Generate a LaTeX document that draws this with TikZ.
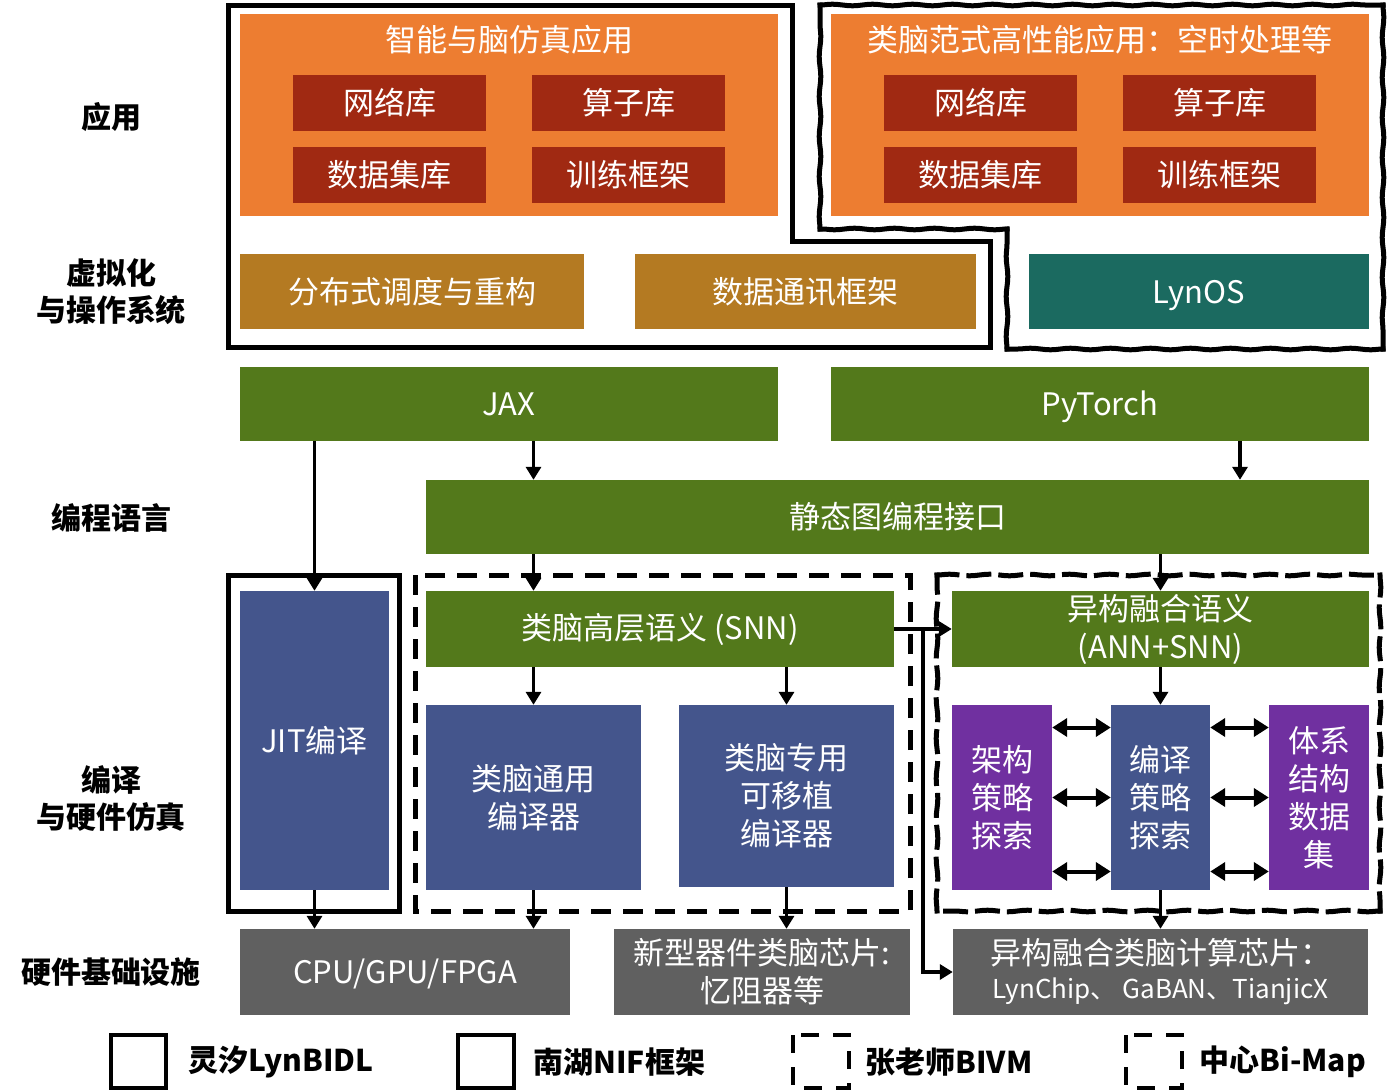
\documentclass[tikz,border=0pt]{standalone}
\usepackage{fontspec}
\setmainfont{Noto Sans CJK SC}
\usetikzlibrary{arrows.meta,calc,decorations.pathmorphing}
\definecolor{apporange}{RGB}{237,125,49}
\definecolor{libred}{RGB}{160,41,18}
\definecolor{schedgold}{RGB}{180,122,34}
\definecolor{osteal}{RGB}{27,106,96}
\definecolor{langgreen}{RGB}{83,121,27}
\definecolor{compblue}{RGB}{68,85,140}
\definecolor{explpurple}{RGB}{112,48,160}
\definecolor{hwgray}{RGB}{96,96,96}
\newcommand{\boxfont}{\fontsize{31}{38}\selectfont}
\newcommand{\smallboxfont}{\fontsize{26}{36}\selectfont}
\newcommand{\layerfont}{\fontsize{30}{37}\selectfont\bfseries}
\tikzset{
    % Coloured block style
    block/.style={
        rectangle, inner sep=0pt, text=white,
        font=\boxfont, align=center
    },
    latin/.style={text height=27pt, text depth=4pt},
    appbox/.style={block, fill=apporange},
    libbox/.style={block, fill=libred, minimum width=193, minimum height=56},
    schedbox/.style={block, fill=schedgold, minimum height=75},
    osbox/.style={block, fill=osteal, minimum height=75},
    langbox/.style={block, fill=langgreen},
    compbox/.style={block, fill=compblue},
    explbox/.style={block, fill=explpurple},
    hwbox/.style={block, fill=hwgray, minimum height=86},
    % Layer label style
    layerlabel/.style={font=\layerfont, align=center},
    % Legend style
    legendtext/.style={font=\layerfont, anchor=west},
    % Frame styles
    frame/.style={line width=5pt},
    dashframe/.style={frame, dash pattern=on 20pt off 12pt},
    wavy/.style={decorate, line cap=rect,
        decoration={snake, segment length=40pt, amplitude=0.8pt}},
    % Arrows
    arr/.style={line width=3.5pt, -{Triangle[width=15pt,length=13pt]}},
    dblarr/.style={line width=4pt, {Triangle[width=18pt,length=15pt]}-{Triangle[width=18pt,length=15pt]}}
}
\begin{document}
\begin{tikzpicture}[x=1pt,y=-1pt]
\useasboundingbox (0,0) rectangle (1393,1090);

% Layer labels
\node[layerlabel] (lapp) at (111,117) {应用};
\node[layerlabel] (los) at (111,292) {虚拟化\\与操作系统};
\node[layerlabel] (llang) at (111,518) {编程语言};
\node[layerlabel] (lcomp) at (111,798) {编译\\与硬件仿真};
\node[layerlabel] (lhw) at (111,972) {硬件基础设施};

% Application layer
\node[appbox, minimum width=538, minimum height=202] (app1) at (509,115) {};
\node[block] (app1title) at (509,40) {智能与脑仿真应用};
\node[libbox] (net1) at (389.5,103) {网络库};
\node[libbox] (op1) at (628.5,103) {算子库};
\node[libbox] (data1) at (389.5,175) {数据集库};
\node[libbox] (train1) at (628.5,175) {训练框架};

\node[appbox, minimum width=538, minimum height=202] (app2) at (1100,115) {};
\node[block] (app2title) at (1100,40) {类脑范式高性能应用：空时处理等};
\node[libbox] (net2) at (980.5,103) {网络库};
\node[libbox] (op2) at (1219.5,103) {算子库};
\node[libbox] (data2) at (980.5,175) {数据集库};
\node[libbox] (train2) at (1219.5,175) {训练框架};

% Virtualisation and OS
\node[schedbox, minimum width=344] (sched) at (412,291.5) {分布式调度与重构};
\node[schedbox, minimum width=341] (comm) at (805.5,291.5) {数据通讯框架};
\node[osbox, latin, minimum width=340] (lynos) at (1199,291.5) {LynOS};

% Programming languages
\node[langbox, latin, minimum width=538, minimum height=74] (jax) at (509,404) {JAX};
\node[langbox, latin, minimum width=538, minimum height=74] (pytorch) at (1100,404) {PyTorch};
\node[langbox, minimum width=943, minimum height=74] (static) at (897.5,517) {静态图编程接口};

% Compilation
\node[compbox, minimum width=149, minimum height=299] (jit) at (314.5,740.5) {JIT编译};
\node[langbox, minimum width=468, minimum height=76] (snn) at (660,629) {类脑高层语义 (SNN)};
\node[compbox, minimum width=215, minimum height=185] (general) at (533.5,797.5) {类脑通用\\编译器};
\node[compbox, minimum width=215, minimum height=182] (special) at (786.5,796) {类脑专用\\可移植\\编译器};
\node[langbox, minimum width=417, minimum height=76] (hybrid) at (1160.5,629) {异构融合语义\\(ANN+SNN)};
\node[explbox, minimum width=100, minimum height=185] (archx) at (1002,797.5) {架构\\策略\\探索};
\node[compbox, minimum width=99, minimum height=185] (compx) at (1160.5,797.5) {编译\\策略\\探索};
\node[explbox, minimum width=100, minimum height=185] (archdata) at (1319,797.5) {体系\\结构\\数据\\集};

% Hardware
\node[hwbox, latin, minimum width=330] (cpu) at (405,972) {CPU/GPU/FPGA};
\node[hwbox, minimum width=296] (novel) at (762,972) {新型器件类脑芯片:\\忆阻器等};
\node[hwbox, minimum width=415] (chip) at (1160.5,972) {异构融合类脑计算芯片：\\[-4pt]{\smallboxfont LynChip、 GaBAN、TianjicX}};

% Frames
\draw[frame] (228,5) -- (792,5) -- (792,241) -- (990,241) -- (990,347) -- (228,347) -- cycle;
\foreach \ax/\ay/\bx/\by in {820/5/1383/5, 1383/5/1383/349, 1383/349/1007/349,
    1007/349/1007/229, 1007/229/820/229, 820/229/820/5}
    \draw[frame, wavy] (\ax,\ay) -- (\bx,\by);
\draw[frame] (228,575) rectangle (399,911);
\draw[dashframe] (415,575) rectangle (910,911);
\foreach \ax/\ay/\bx/\by in {937/575/1380/575, 1380/575/1380/911,
    1380/911/937/911, 937/911/937/575}
    \draw[dashframe, wavy] (\ax,\ay) -- (\bx,\by);

% Arrows
\coordinate (ptout) at ([xshift=140pt]pytorch.south);
\draw[arr] (jax.south -| jit.north) -- (jit.north);
\draw[arr] (jax.south -| general.north) -- (static.north -| general.north);
\draw[arr] (ptout) -- (static.north -| ptout);
\draw[arr] (static.south -| general.north) -- (snn.north -| general.north);
\draw[arr] (static.south -| hybrid.north) -- (hybrid.north);
\draw[arr] (snn.south -| general.north) -- (general.north);
\draw[arr] (snn.south -| special.north) -- (special.north);
\draw[arr] (hybrid.south) -- (compx.north);
\draw[arr] (jit.south) -- (cpu.north -| jit.south);
\draw[arr] (general.south) -- (cpu.north -| general.south);
\draw[arr] (special.south) -- (novel.north -| special.south);
\draw[arr] (compx.south) -- (chip.north);
\draw[arr] (snn.east) -- (hybrid.west);
\coordinate (split) at ($(snn.east)!0.5!(hybrid.west)$);
\draw[arr] (split) |- (chip.west);
\foreach \dy in {-74,0,70} {
    \draw[dblarr] ([yshift=\dy pt]archx.east) -- ([yshift=\dy pt]compx.west);
    \draw[dblarr] ([yshift=\dy pt]compx.east) -- ([yshift=\dy pt]archdata.west);
}

% Legend
\draw[line width=4.5pt] (111,1035) rectangle (166,1088);
\node[legendtext] (leg1) at (185,1062) {灵汐LynBIDL};
\draw[line width=4.5pt] (458,1035) rectangle (514,1088);
\node[legendtext] (leg2) at (530,1062) {南湖NIF框架};
\draw[line width=4.5pt, dash pattern=on 18pt off 14pt] (793,1035) rectangle (849,1088);
\node[legendtext] (leg3) at (862,1062) {张老师BIVM};
\draw[line width=4.5pt, dash pattern=on 18pt off 14pt] (1126,1035) rectangle (1182,1088);
\node[legendtext] (leg4) at (1196,1062) {中心Bi-Map};

\end{tikzpicture}
\end{document}
